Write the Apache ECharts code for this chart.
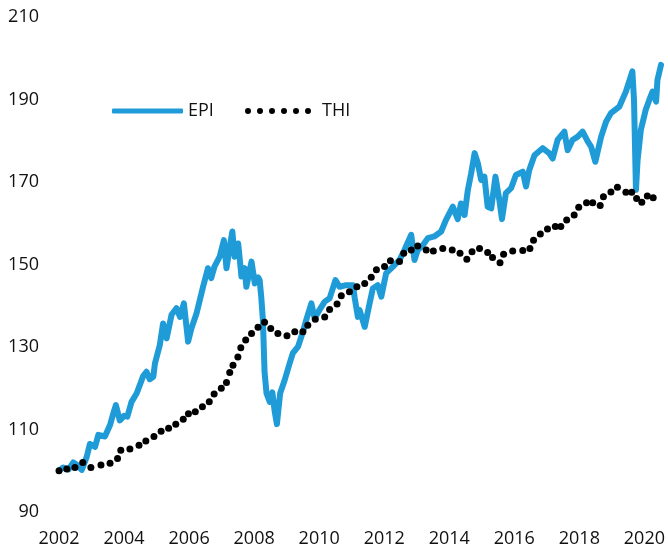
<!DOCTYPE html>
<html>
<head>
<meta charset="utf-8">
<script src="https://cdn.jsdelivr.net/npm/echarts@6/dist/echarts.min.js"></script>
<style>
  html, body { margin: 0; padding: 0; background: #fff; }
  #chart { width: 668px; height: 548px; }
</style>
</head>
<body>
<div id="chart"></div>
<script>
// EPI: dense index line (decimal years)
const epiYears = [
  2002.00, 2002.13, 2002.29, 2002.44, 2002.56, 2002.70, 2002.85, 2002.95, 2003.11, 2003.21,
  2003.41, 2003.57, 2003.67, 2003.75, 2003.87, 2004.00, 2004.10, 2004.23, 2004.39, 2004.59,
  2004.69, 2004.79, 2004.90, 2004.95, 2005.10, 2005.20, 2005.31, 2005.46, 2005.61, 2005.72,
  2005.84, 2005.97, 2006.07, 2006.23, 2006.33, 2006.43, 2006.58, 2006.68, 2006.78, 2006.94,
  2007.07, 2007.15, 2007.25, 2007.33, 2007.40, 2007.51, 2007.61, 2007.71, 2007.76, 2007.92,
  2008.02, 2008.12, 2008.17, 2008.22, 2008.27, 2008.32, 2008.38, 2008.48, 2008.56, 2008.63,
  2008.70, 2008.80, 2008.94, 2009.09, 2009.19, 2009.35, 2009.50, 2009.60, 2009.76, 2009.86,
  2010.01, 2010.17, 2010.32, 2010.50, 2010.63, 2010.83, 2011.04, 2011.09, 2011.19, 2011.24,
  2011.40, 2011.55, 2011.65, 2011.80, 2011.91, 2012.06, 2012.27, 2012.47, 2012.62, 2012.83,
  2012.93, 2013.03, 2013.19, 2013.34, 2013.54, 2013.75, 2013.90, 2014.11, 2014.26, 2014.36,
  2014.47, 2014.57, 2014.67, 2014.78, 2014.88, 2014.98, 2015.08, 2015.18, 2015.29, 2015.42,
  2015.54, 2015.62, 2015.74, 2015.90, 2016.05, 2016.26, 2016.36, 2016.46, 2016.62, 2016.87,
  2017.07, 2017.18, 2017.33, 2017.54, 2017.64, 2017.79, 2017.95, 2018.10, 2018.26, 2018.36,
  2018.49, 2018.67, 2018.82, 2018.97, 2019.23, 2019.43, 2019.63, 2019.68, 2019.74, 2019.79,
  2019.89, 2020.04, 2020.15, 2020.25, 2020.36, 2020.40, 2020.51
];
const epiValues = [
  100.0, 100.8, 100.3, 102.0, 101.4, 100.2, 103.3, 106.5, 105.8, 108.7,
  108.3, 111.1, 113.9, 115.9, 112.2, 113.3, 113.1, 116.7, 118.8, 123.0,
  124.0, 122.2, 122.8, 126.0, 130.5, 135.7, 132.1, 137.8, 139.4, 137.3,
  140.6, 131.3, 134.5, 138.2, 141.4, 144.6, 149.1, 146.7, 149.5, 151.9,
  155.9, 149.1, 154.3, 158.0, 151.9, 155.1, 147.1, 149.1, 144.6, 150.7,
  145.4, 146.9, 146.2, 142.0, 136.5, 124.0, 118.8, 116.7, 119.0, 114.5,
  111.3, 118.8, 122.0, 126.0, 128.5, 130.1, 133.7, 136.5, 140.6, 137.0,
  139.0, 141.0, 141.8, 146.2, 144.6, 145.0, 145.0, 142.0, 137.3, 139.0,
  134.9, 140.6, 144.2, 145.0, 142.2, 147.9, 149.5, 151.1, 153.5, 157.2,
  151.1, 153.5, 154.7, 156.4, 156.8, 158.0, 160.8, 164.0, 161.0, 164.8,
  162.0, 168.0, 172.0, 177.0, 174.5, 170.5, 171.3, 164.0, 163.6, 171.3,
  165.6, 161.0, 167.3, 168.5, 171.7, 172.5, 168.9, 172.9, 176.5, 178.2,
  177.0, 175.7, 180.2, 182.2, 177.7, 180.2, 181.0, 182.2, 179.8, 178.6,
  174.9, 181.0, 184.6, 186.7, 188.3, 191.9, 196.8, 189.9, 168.1, 175.3,
  182.6, 187.5, 189.9, 191.9, 189.5, 194.7, 198.4
];

// THI: dotted series
const thiYears = [
  2002.00, 2002.24, 2002.49, 2002.73, 2002.98, 2003.29, 2003.57, 2003.80, 2003.90, 2004.18,
  2004.46, 2004.67, 2004.92, 2005.14, 2005.37, 2005.59, 2005.82, 2005.98, 2006.19, 2006.41,
  2006.62, 2006.77, 2006.99, 2007.15, 2007.25, 2007.35, 2007.50, 2007.59, 2007.74, 2007.92,
  2008.12, 2008.32, 2008.51, 2008.73, 2009.01, 2009.25, 2009.50, 2009.65, 2009.88, 2010.17,
  2010.32, 2010.55, 2010.68, 2010.93, 2011.16, 2011.40, 2011.60, 2011.76, 2012.01, 2012.19,
  2012.47, 2012.60, 2012.83, 2013.03, 2013.29, 2013.51, 2013.80, 2014.09, 2014.33, 2014.54,
  2014.70, 2014.93, 2015.18, 2015.33, 2015.56, 2015.67, 2015.95, 2016.26, 2016.48, 2016.59,
  2016.80, 2017.02, 2017.26, 2017.43, 2017.61, 2017.84, 2017.98, 2018.22, 2018.41, 2018.64,
  2018.74, 2018.97, 2019.17, 2019.43, 2019.61, 2019.76, 2019.92, 2020.09, 2020.27
];
const thiValues = [
  100.0, 100.4, 100.8, 102.0, 100.8, 101.4, 101.8, 103.0, 105.0, 105.3,
  106.2, 107.2, 108.3, 109.6, 110.3, 111.3, 112.5, 113.8, 114.3, 115.5,
  116.7, 118.6, 120.0, 121.4, 123.8, 125.6, 127.6, 129.8, 131.7, 133.3,
  134.8, 136.0, 134.5, 133.3, 132.7, 133.7, 133.7, 135.3, 136.7, 137.3,
  139.1, 140.4, 142.4, 143.4, 144.6, 145.4, 146.9, 148.7, 149.5, 150.9,
  150.7, 152.7, 153.5, 154.5, 153.5, 153.3, 153.9, 153.5, 152.7, 151.3,
  153.1, 153.9, 152.9, 151.7, 150.4, 152.5, 153.3, 153.4, 153.9, 155.9,
  157.4, 158.6, 159.2, 159.2, 160.8, 162.0, 163.9, 165.0, 165.0, 164.3,
  166.4, 167.6, 168.7, 167.5, 167.5, 166.0, 165.1, 166.6, 166.2
];

const yTicks = [90, 110, 130, 150, 170, 190, 210];
const xTicks = [2002, 2004, 2006, 2008, 2010, 2012, 2014, 2016, 2018, 2020];

const FONT = '"Open Sans", "Noto Sans", sans-serif';
const BLUE = '#1f9bd8';

// six dots for the THI legend key
let dots = '';
for (let i = 0; i < 6; i++) {
  dots += 'M' + (i * 12) + ',3a3,3 0 1,0 6,0a3,3 0 1,0 -6,0';
}

const chart = echarts.init(document.getElementById('chart'), null, { renderer: 'canvas' });

chart.setOption({
  backgroundColor: '#fff',
  animation: false,
  grid: { left: 59, right: 3, top: 17, bottom: 36 },
  legend: [
    {
      data: [{ name: 'EPI', icon: 'roundRect' }],
      left: 107, top: 97,
      itemWidth: 71, itemHeight: 5, itemGap: 0,
      textStyle: { color: '#111', fontSize: 18, fontFamily: FONT },
      selectedMode: false
    },
    {
      data: [{ name: 'THI', icon: 'path://' + dots }],
      left: 240, top: 97,
      itemWidth: 68, itemHeight: 6, itemGap: 0,
      textStyle: { color: '#111', fontSize: 18, fontFamily: FONT, padding: [0, 0, 0, 5] },
      selectedMode: false
    }
  ],
  xAxis: {
    type: 'value',
    min: 2002,
    max: 2020.6,
    interval: 2,
    axisLine: { show: false },
    axisTick: { show: false },
    splitLine: { show: false },
    axisLabel: {
      color: '#111', fontSize: 18, fontFamily: FONT, margin: 18,
      showMaxLabel: false,
      formatter: v => xTicks.indexOf(v) >= 0 ? String(v) : ''
    }
  },
  yAxis: {
    type: 'value',
    min: yTicks[0],
    max: yTicks[yTicks.length - 1],
    interval: 20,
    axisLine: { show: false },
    axisTick: { show: false },
    splitLine: { show: false },
    axisLabel: { color: '#111', fontSize: 18, fontFamily: FONT, margin: 20 }
  },
  series: [
    {
      name: 'EPI',
      type: 'line',
      data: epiYears.map((y, i) => [y, epiValues[i]]),
      symbol: 'none',
      lineStyle: { width: 6, color: BLUE, join: 'round', cap: 'round' },
      itemStyle: { color: BLUE },
      z: 2
    },
    {
      name: 'THI',
      type: 'scatter',
      data: thiYears.map((y, i) => [y, thiValues[i]]),
      symbol: 'circle',
      symbolSize: 7,
      itemStyle: { color: '#000', opacity: 1 },
      z: 3
    }
  ]
});
</script>
</body>
</html>
